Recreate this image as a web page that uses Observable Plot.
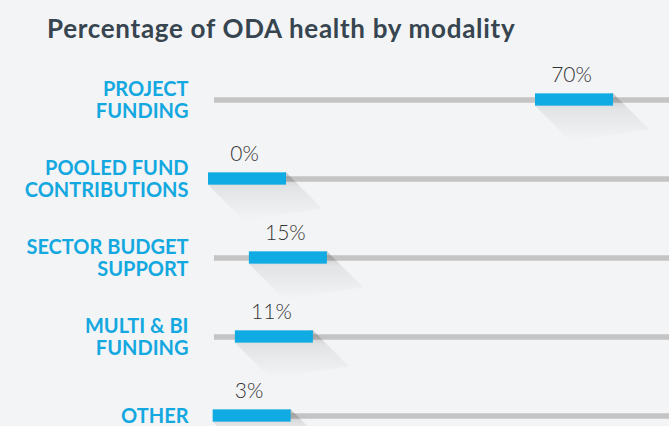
<!DOCTYPE html>
<html><head><meta charset="utf-8">
<script src="https://cdn.jsdelivr.net/npm/d3@7"></script>
<script src="https://cdn.jsdelivr.net/npm/@observablehq/plot@0.6"></script>
<style>
body{margin:0;background:#f3f4f6;}
#wrap{position:relative;width:669px;height:426px;overflow:hidden;background:#f3f4f6;}
#title{position:absolute;left:47px;top:15px;font:700 26px Lato,sans-serif;color:#36454f;line-height:1;white-space:nowrap;letter-spacing:0.7px;}
#chart{position:absolute;left:0;top:0;}
</style></head><body>
<div id="wrap"><div id="chart"></div><div id="title">Percentage of ODA health by modality</div></div>
<script>
const modalities = ["PROJECT\nFUNDING", "POOLED FUND\nCONTRIBUTIONS", "SECTOR BUDGET\nSUPPORT", "MULTI & BI\nFUNDING", "OTHER"];
const percentages = [70, 0, 15, 11, 3];
const valueLabels = ["70%", "0%", "15%", "11%", "3%"];

const rows = modalities.map((m, i) => ({modality: m, pct: percentages[i], label: valueLabels[i]}));

const BAR_W = 78, BAR_H = 12.5;
const yRange = [59.5, 455.5];
const band = (yRange[1] - yRange[0]) / modalities.length;

const chart = Plot.plot({
  width: 669, height: 426,
  marginLeft: 214, marginRight: 0, marginTop: 0, marginBottom: 0,
  style: {background: "transparent", overflow: "visible"},
  x: {type: "pow", exponent: 1.35, domain: [0, 70], range: [208, 535], axis: null},
  y: {type: "band", domain: modalities, range: yRange, padding: 0, axis: null},
  marks: [
    Plot.ruleY(rows, {y: "modality", stroke: "#c4c4c4", strokeWidth: 5.5}),
    Plot.barX(rows, {x1: "pct", x2: "pct", y: "modality", fill: "#10abe2",
      insetRight: -BAR_W, insetTop: (band - BAR_H) / 2, insetBottom: (band - BAR_H) / 2}),
    Plot.text(rows, {x: "pct", y: "modality", text: "label", dx: 36, dy: -18, lineAnchor: "bottom",
      fontSize: 21, fontWeight: 300, fill: "#333", fontFamily: "Lato, sans-serif"}),
    Plot.text(rows, {y: "modality", text: "modality", frameAnchor: "left", textAnchor: "end", dx: -26,
      lineAnchor: "middle", lineHeight: 1.1, fontSize: 20, fontWeight: 700, fill: "#14a8e0",
      fontFamily: "Lato, sans-serif", letterSpacing: "-0.1px"})
  ]
});

// long diagonal shadow under each bar, positioned with the plot's own scales
const xs = chart.scale("x"), ys = chart.scale("y");
const svg = d3.select(chart);
const defs = svg.insert("defs", ":first-child");
const grad = defs.append("linearGradient").attr("id", "shadowGrad")
  .attr("x1", 0).attr("y1", 0).attr("x2", 0).attr("y2", 1);
grad.append("stop").attr("offset", 0).attr("stop-color", "#000").attr("stop-opacity", 0.22);
grad.append("stop").attr("offset", 0.3).attr("stop-color", "#000").attr("stop-opacity", 0.07);
grad.append("stop").attr("offset", 1).attr("stop-color", "#000").attr("stop-opacity", 0);
const barG = chart.querySelector('g[aria-label="bar"]');
const shadowG = document.createElementNS("http://www.w3.org/2000/svg", "g");
chart.insertBefore(shadowG, barG);
const L = 36;
rows.forEach(r => {
  const x1 = xs.apply(r.pct), x2 = x1 + BAR_W;
  const cy = ys.apply(r.modality) + ys.bandwidth / 2;
  const yt = cy - BAR_H / 2, yb = cy + BAR_H / 2;
  d3.select(shadowG).append("polygon")
    .attr("points", [[x2, yt], [x2 + L, yt + L], [x1 + L, yb + L], [x1, yb]].map(p => p.join(",")).join(" "))
    .attr("fill", "url(#shadowGrad)");
});

document.getElementById("chart").appendChild(chart);
</script>
</body></html>
